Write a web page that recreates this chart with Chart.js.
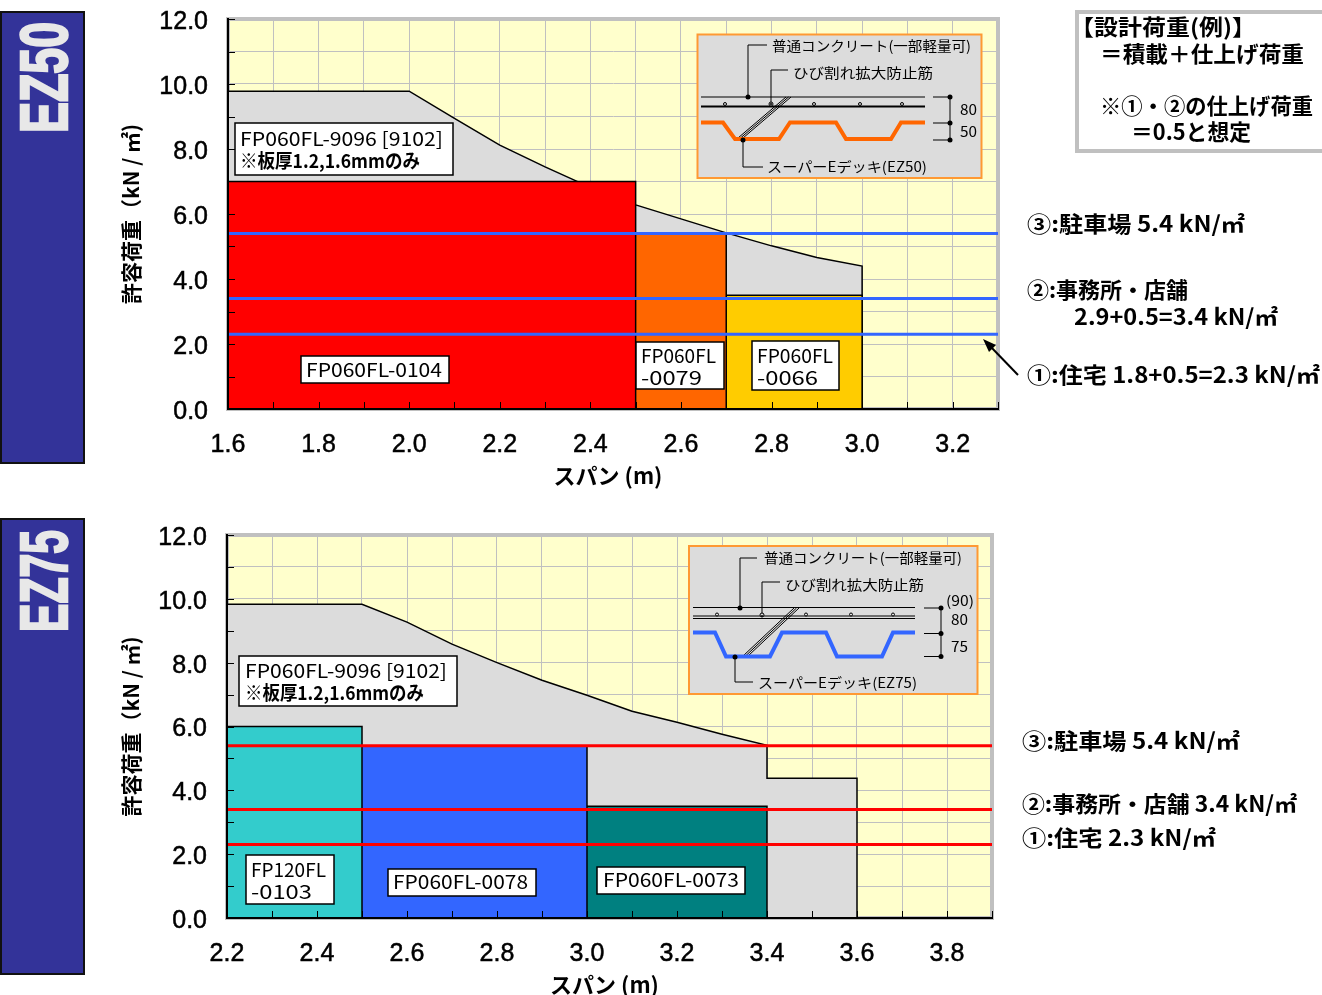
<!DOCTYPE html>
<html lang="ja">
<head>
<meta charset="utf-8">
<title>EZ50 / EZ75</title>
<script src="https://cdn.jsdelivr.net/npm/chart.js@4/dist/chart.umd.min.js"></script>
<style>
html, body { margin: 0; padding: 0; background: #fff; width: 1322px; height: 995px; overflow: hidden; }
canvas { position: absolute; }
#c50 { left: 118px; top: 0; }
#c75 { left: 118px; top: 510px; }
svg { position: absolute; left: 0; top: 0; }
svg text { font-family: "Noto Sans CJK JP", sans-serif; dominant-baseline: central; fill: #000; }
svg text:not(.ban) { transform: translateY(-2px); }
svg text.ins { transform: translateY(-1px); }
.lbl { font-size: 19px; }
.note { font-size: 19px; font-weight: 700; }
.side { font-size: 22px; font-weight: 700; }
.ins { font-size: 14px; }
.ban { font-family: "Liberation Sans", sans-serif; font-size: 66px; font-weight: 700; fill: #e8e8e8; stroke: #e8e8e8; stroke-width: 2.5px; }
.box { fill: #fff; stroke: #000; stroke-width: 1.5; }
.ln { fill: none; stroke: #000; stroke-width: 1; }
</style>
</head>
<body>
<canvas id="c50" width="890" height="490"></canvas>
<canvas id="c75" width="884" height="489"></canvas>

<svg width="1322" height="995" viewBox="0 0 1322 995">
  <!-- banners -->
  <rect x="1" y="12" width="83" height="451" fill="#333399" stroke="#111" stroke-width="2"/>
  <rect x="1" y="519" width="83" height="455" fill="#333399" stroke="#111" stroke-width="2"/>
  <text class="ban" transform="translate(44,133) rotate(-90)" textLength="111" lengthAdjust="spacingAndGlyphs">EZ50</text>
  <text class="ban" transform="translate(44,632) rotate(-90)" textLength="102" lengthAdjust="spacingAndGlyphs">EZ75</text>

  <!-- design load note -->
  <rect x="1077" y="12" width="250" height="139" fill="#fff" stroke="#c0c0c0" stroke-width="4"/>
  <text class="side" x="1070" y="27" textLength="186" lengthAdjust="spacingAndGlyphs">【設計荷重(例)】</text>
  <text class="side" x="1100" y="54" textLength="204" lengthAdjust="spacingAndGlyphs">＝積載＋仕上げ荷重</text>
  <text class="side" x="1100" y="106" textLength="213" lengthAdjust="spacingAndGlyphs">※①・②の仕上げ荷重</text>
  <text class="side" x="1131" y="132" textLength="120" lengthAdjust="spacingAndGlyphs">＝0.5と想定</text>

  <!-- EZ50 load captions -->
  <text class="side" x="1027" y="224" textLength="218" lengthAdjust="spacingAndGlyphs">③:駐車場 5.4 kN/㎡</text>
  <text class="side" x="1027" y="290" textLength="161" lengthAdjust="spacingAndGlyphs">②:事務所・店舗</text>
  <text class="side" x="1074" y="317" textLength="204" lengthAdjust="spacingAndGlyphs">2.9+0.5=3.4 kN/㎡</text>
  <text class="side" x="1027" y="375" textLength="293" lengthAdjust="spacingAndGlyphs">①:住宅 1.8+0.5=2.3 kN/㎡</text>
  <line x1="1018" y1="375" x2="990" y2="346" stroke="#000" stroke-width="2"/>
  <polygon points="983,339 996,345 989,352" fill="#000"/>

  <!-- EZ75 load captions -->
  <text class="side" x="1022" y="741" textLength="218" lengthAdjust="spacingAndGlyphs">③:駐車場 5.4 kN/㎡</text>
  <text class="side" x="1022" y="804" textLength="275" lengthAdjust="spacingAndGlyphs">②:事務所・店舗 3.4 kN/㎡</text>
  <text class="side" x="1022" y="838" textLength="194" lengthAdjust="spacingAndGlyphs">①:住宅 2.3 kN/㎡</text>

  <!-- EZ50 product labels -->
  <rect class="box" x="235" y="123" width="218" height="52"/>
  <text class="lbl" x="240" y="139" textLength="203" lengthAdjust="spacingAndGlyphs">FP060FL-9096 [9102]</text>
  <text class="note" x="240" y="161" textLength="180" lengthAdjust="spacingAndGlyphs">※板厚1.2,1.6mmのみ</text>
  <rect class="box" x="301" y="356" width="148" height="27"/>
  <text class="lbl" x="306" y="370" textLength="136" lengthAdjust="spacingAndGlyphs">FP060FL-0104</text>
  <rect class="box" x="636" y="342" width="88" height="47"/>
  <text class="lbl" x="641" y="356" textLength="75" lengthAdjust="spacingAndGlyphs">FP060FL</text>
  <text class="lbl" x="641" y="378" textLength="61" lengthAdjust="spacingAndGlyphs">-0079</text>
  <rect class="box" x="752" y="341" width="87" height="49"/>
  <text class="lbl" x="757" y="356" textLength="76" lengthAdjust="spacingAndGlyphs">FP060FL</text>
  <text class="lbl" x="757" y="378" textLength="61" lengthAdjust="spacingAndGlyphs">-0066</text>

  <!-- EZ75 product labels -->
  <rect class="box" x="239" y="656" width="218" height="50"/>
  <text class="lbl" x="245" y="671" textLength="202" lengthAdjust="spacingAndGlyphs">FP060FL-9096 [9102]</text>
  <text class="note" x="245" y="693" textLength="179" lengthAdjust="spacingAndGlyphs">※板厚1.2,1.6mmのみ</text>
  <rect class="box" x="246" y="855" width="88" height="49"/>
  <text class="lbl" x="251" y="870" textLength="75" lengthAdjust="spacingAndGlyphs">FP120FL</text>
  <text class="lbl" x="251" y="892" textLength="61" lengthAdjust="spacingAndGlyphs">-0103</text>
  <rect class="box" x="388" y="869" width="148" height="27"/>
  <text class="lbl" x="393" y="882" textLength="135" lengthAdjust="spacingAndGlyphs">FP060FL-0078</text>
  <rect class="box" x="597" y="867" width="148" height="27"/>
  <text class="lbl" x="603" y="880" textLength="136" lengthAdjust="spacingAndGlyphs">FP060FL-0073</text>

  <!-- EZ50 section inset -->
  <rect x="697.5" y="34.5" width="284" height="143.5" fill="#dcdcdc" stroke="#ff9933" stroke-width="2"/>
  <polyline class="ln" points="748,97 748,45 767,45"/>
  <text class="ins" x="772" y="46" textLength="199" lengthAdjust="spacingAndGlyphs">普通コンクリート(一部軽量可)</text>
  <polyline class="ln" points="771,104 771,70 788,70"/>
  <text class="ins" x="793" y="73" textLength="140" lengthAdjust="spacingAndGlyphs">ひび割れ拡大防止筋</text>
  <line class="ln" x1="701" y1="97" x2="925" y2="97"/>
  <line class="ln" x1="701" y1="106.5" x2="925" y2="106.5" style="stroke-width:2"/>
  <g fill="#dcdcdc" stroke="#000" stroke-width="1">
    <circle cx="725" cy="104" r="1.5"/><circle cx="771" cy="104" r="2"/><circle cx="814" cy="104" r="1.5"/><circle cx="860" cy="104" r="1.5"/><circle cx="902" cy="104" r="1.5"/>
  </g>
  <g class="ln" stroke="#000" stroke-width="1">
    <line x1="738" y1="138" x2="786" y2="97"/><line x1="740.5" y1="138" x2="788.5" y2="97"/><line x1="743" y1="138" x2="791" y2="97"/>
  </g>
  <polyline points="701,122.5 723,122.5 735,139 779,139 790,122.5 836,122.5 846,139 891,139 901,122.5 925,122.5" fill="none" stroke="#ff6600" stroke-width="4"/>
  <polyline class="ln" points="743,140 743,167 763,167"/>
  <text class="ins" x="767" y="167" textLength="160" lengthAdjust="spacingAndGlyphs">スーパーEデッキ(EZ50)</text>
  <g stroke="#000" stroke-width="1">
    <line x1="933" y1="97" x2="950" y2="97"/><line x1="933" y1="123" x2="950" y2="123"/><line x1="933" y1="140" x2="950" y2="140"/><line x1="950" y1="97" x2="950" y2="140"/>
  </g>
  <g fill="#000"><circle cx="748" cy="97" r="2.5"/><circle cx="771" cy="104" r="1"/><circle cx="743" cy="140" r="2.5"/><circle cx="950" cy="97" r="2.5"/><circle cx="950" cy="123" r="2.5"/><circle cx="950" cy="140" r="2.5"/></g>
  <text class="ins" x="960" y="110" textLength="17" lengthAdjust="spacingAndGlyphs">80</text>
  <text class="ins" x="960" y="132" textLength="17" lengthAdjust="spacingAndGlyphs">50</text>

  <!-- EZ75 section inset -->
  <rect x="689" y="546" width="288.5" height="148" fill="#dcdcdc" stroke="#ff9933" stroke-width="2"/>
  <polyline class="ln" points="740,608 740,558 757,558"/>
  <text class="ins" x="764" y="558" textLength="198" lengthAdjust="spacingAndGlyphs">普通コンクリート(一部軽量可)</text>
  <polyline class="ln" points="762,616 762,582 780,582"/>
  <text class="ins" x="785" y="585" textLength="139" lengthAdjust="spacingAndGlyphs">ひび割れ拡大防止筋</text>
  <line class="ln" x1="693" y1="607.5" x2="915" y2="607.5"/>
  <line class="ln" x1="693" y1="616" x2="915" y2="616"/>
  <line class="ln" x1="693" y1="618.5" x2="915" y2="618.5"/>
  <g fill="#dcdcdc" stroke="#000" stroke-width="1">
    <circle cx="717" cy="614.5" r="1.5"/><circle cx="762" cy="615" r="2"/><circle cx="806" cy="614.5" r="1.5"/><circle cx="851" cy="614.5" r="1.5"/><circle cx="893" cy="614.5" r="1.5"/>
  </g>
  <g class="ln" stroke="#000" stroke-width="1">
    <line x1="743" y1="656" x2="794" y2="608"/><line x1="745.5" y1="656" x2="796.5" y2="608"/><line x1="748" y1="656" x2="799" y2="608"/>
  </g>
  <polyline points="693,632.5 715,632.5 726,656.5 770,656.5 782,632.5 826,632.5 837,656.5 882,656.5 893,632.5 915,632.5" fill="none" stroke="#3366ff" stroke-width="4"/>
  <polyline class="ln" points="735,657 735,682 753,682"/>
  <text class="ins" x="758" y="683" textLength="159" lengthAdjust="spacingAndGlyphs">スーパーEデッキ(EZ75)</text>
  <g stroke="#000" stroke-width="1">
    <line x1="924" y1="608" x2="941" y2="608"/><line x1="924" y1="633.5" x2="941" y2="633.5"/><line x1="924" y1="656.5" x2="941" y2="656.5"/><line x1="941" y1="608" x2="941" y2="656.5"/>
  </g>
  <g fill="#000"><circle cx="740" cy="608" r="2.5"/><circle cx="762" cy="616" r="1"/><circle cx="735" cy="657" r="2.5"/><circle cx="941" cy="608" r="2.5"/><circle cx="941" cy="633.5" r="2.5"/><circle cx="941" cy="656.5" r="2.5"/></g>
  <text class="ins" x="946" y="601" textLength="28" lengthAdjust="spacingAndGlyphs">(90)</text>
  <text class="ins" x="951" y="620" textLength="17" lengthAdjust="spacingAndGlyphs">80</text>
  <text class="ins" x="951" y="647" textLength="17" lengthAdjust="spacingAndGlyphs">75</text>
</svg>

<script>
// 許容荷重 (kN/m2)
const yLabels = ['0.0', '2.0', '4.0', '6.0', '8.0', '10.0', '12.0'];

// EZ50
const ez50XLabels = ['1.6', '1.8', '2.0', '2.2', '2.4', '2.6', '2.8', '3.0', '3.2'];
const ez50EnvSpan = [1.6, 2.0, 2.1, 2.2, 2.3, 2.4, 2.5, 2.6, 2.7, 2.8, 2.9, 3.0, 3.0];
const ez50EnvLoad = [9.78, 9.78, 8.94, 8.12, 7.45, 6.82, 6.28, 5.85, 5.42, 5.02, 4.66, 4.4, 0];
const ez50RedSpan = [1.6, 2.5, 2.5];
const ez50RedLoad = [7.0, 7.0, 0];
const ez50OrangeSpan = [2.5, 2.7, 2.7];
const ez50OrangeLoad = [5.4, 5.4, 0];
const ez50GoldSpan = [2.7, 3.0, 3.0];
const ez50GoldLoad = [3.5, 3.5, 0];
const ez50Limits = [5.4, 3.4, 2.3];

// EZ75
const ez75XLabels = ['2.2', '2.4', '2.6', '2.8', '3.0', '3.2', '3.4', '3.6', '3.8'];
const ez75EnvSpan = [2.2, 2.5, 2.6, 2.7, 2.8, 2.9, 3.0, 3.1, 3.2, 3.3, 3.4, 3.4, 3.6, 3.6];
const ez75EnvLoad = [9.83, 9.83, 9.27, 8.58, 8.0, 7.45, 6.98, 6.48, 6.13, 5.76, 5.41, 4.38, 4.38, 0];
const ez75TealSpan = [2.2, 2.5, 2.5];
const ez75TealLoad = [6.0, 6.0, 0];
const ez75BlueSpan = [2.5, 3.0, 3.0];
const ez75BlueLoad = [5.4, 5.4, 0];
const ez75DarkSpan = [3.0, 3.4, 3.4];
const ez75DarkLoad = [3.5, 3.5, 0];
const ez75Limits = [5.4, 3.4, 2.3];

const pts = (xs, ys) => xs.map((x, i) => ({x: x, y: ys[i]}));

function area(xs, ys, color) {
    return {
        data: pts(xs, ys),
        fill: 'origin',
        backgroundColor: color,
        borderColor: '#000',
        borderWidth: 1.5,
        pointRadius: 0,
        tension: 0
    };
}

function limit(y, x0, x1, color) {
    return {
        data: [{x: x0, y: y}, {x: x1, y: y}],
        borderColor: color,
        borderWidth: 3,
        pointRadius: 0,
        fill: false
    };
}

// yellow background, grey frame and the small inward ticks
const framePlugin = {
    id: 'frame',
    beforeDraw(chart) {
        const {ctx, chartArea: a} = chart;
        ctx.save();
        ctx.fillStyle = '#ffffcc';
        ctx.fillRect(a.left, a.top, a.width, a.height);
        ctx.strokeStyle = '#c0c0c0';
        ctx.lineWidth = 4;
        ctx.strokeRect(a.left, a.top, a.width, a.height);
        ctx.restore();
    },
    afterDatasetsDraw(chart) {
        const {ctx, chartArea: a, scales} = chart;
        ctx.save();
        ctx.strokeStyle = '#000';
        ctx.lineWidth = 1;
        ctx.beginPath();
        scales.x.ticks.forEach(t => {
            const p = Math.round(scales.x.getPixelForValue(t.value)) + 0.5;
            ctx.moveTo(p, a.bottom);
            ctx.lineTo(p, a.bottom - 7);
        });
        scales.y.ticks.forEach(t => {
            const p = Math.round(scales.y.getPixelForValue(t.value)) + 0.5;
            ctx.moveTo(a.left, p);
            ctx.lineTo(a.left + 7, p);
        });
        ctx.stroke();
        ctx.restore();
    }
};

// labels may stick out of the plot, the padding is set by hand
function noPadding(s) {
    s.paddingTop = s.paddingBottom = s.paddingLeft = s.paddingRight = 0;
}

function makeChart(id, datasets, xMin, xMax, xLabels, padTop, padRight, yWidth) {
    return new Chart(document.getElementById(id), {
        type: 'line',
        data: {datasets: datasets},
        plugins: [framePlugin],
        options: {
            responsive: false,
            animation: false,
            layout: {padding: {top: padTop, right: padRight, left: 0, bottom: 0}},
            plugins: {legend: {display: false}, tooltip: {enabled: false}},
            scales: {
                x: {
                    type: 'linear',
                    min: xMin,
                    max: xMax,
                    afterFit: s => { s.height = 81; noPadding(s); },
                    border: {color: '#000', width: 2, z: 1},
                    grid: {color: '#c0c0c0', drawTicks: false},
                    ticks: {
                        stepSize: 0.1,
                        autoSkip: false,
                        maxRotation: 0,
                        padding: 21,
                        color: '#000',
                        textStrokeColor: '#000',
                        textStrokeWidth: 0.5,
                        font: {family: 'Liberation Sans', size: 25},
                        callback: v => xLabels.includes(v.toFixed(1)) ? v.toFixed(1) : ''
                    },
                    title: {
                        display: true,
                        // trailing spaces pull the centred title a little to the left
                        text: 'スパン (m)  ',
                        color: '#000',
                        padding: {top: 0, bottom: 1},
                        font: {family: 'Noto Sans CJK JP', size: 22, weight: 'bold'}
                    }
                },
                y: {
                    min: 0,
                    max: 12,
                    afterFit: s => { s.width = yWidth; noPadding(s); },
                    border: {color: '#000', width: 2, z: 1},
                    grid: {color: '#c0c0c0', drawTicks: false},
                    ticks: {
                        stepSize: 1,
                        autoSkip: false,
                        padding: 20,
                        labelOffset: 3,
                        color: '#000',
                        textStrokeColor: '#000',
                        textStrokeWidth: 0.5,
                        font: {family: 'Liberation Sans', size: 25},
                        callback: v => yLabels.includes(v.toFixed(1)) ? v.toFixed(1) : ''
                    },
                    title: {
                        display: true,
                        text: '許容荷重（kN / ㎡)',
                        color: '#000',
                        padding: 0,
                        font: {family: 'Noto Sans CJK JP', size: 21, weight: 'bold'}
                    }
                }
            }
        }
    });
}

// first dataset ends up on top
makeChart('c50', [
    ...ez50Limits.map(v => limit(v, 1.6, 3.3, '#3366ff')),
    area(ez50RedSpan, ez50RedLoad, '#ff0000'),
    area(ez50OrangeSpan, ez50OrangeLoad, '#ff6600'),
    area(ez50GoldSpan, ez50GoldLoad, '#ffcc00'),
    area(ez50EnvSpan, ez50EnvLoad, '#dcdcdc')
], 1.6, 3.3, ez50XLabels, 19, 10, 110);

makeChart('c75', [
    ...ez75Limits.map(v => limit(v, 2.2, 3.9, '#ff0000')),
    area(ez75TealSpan, ez75TealLoad, '#33cccc'),
    area(ez75BlueSpan, ez75BlueLoad, '#3366ff'),
    area(ez75DarkSpan, ez75DarkLoad, '#008080'),
    area(ez75EnvSpan, ez75EnvLoad, '#dcdcdc')
], 2.2, 3.9, ez75XLabels, 25, 10, 109);
</script>
</body>
</html>
